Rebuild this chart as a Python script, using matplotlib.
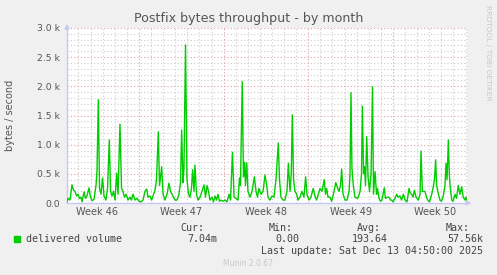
import matplotlib.pyplot as plt
import numpy as np

# time in days since Mon 10 Nov 2025 00:00, values in k bytes/second
days = [1.05, 1.13, 1.30, 1.46, 1.59, 1.71, 1.84, 1.96, 2.08, 2.21, 2.29, 2.46, 2.58, 2.70, 2.87, 2.99,
        3.12, 3.28, 3.45, 3.53, 3.64, 3.74, 3.86, 3.99, 4.11, 4.27, 4.40, 4.55, 4.65, 4.77, 4.89, 5.02,
        5.16, 5.27, 5.43, 5.56, 5.68, 5.80, 5.93, 6.09, 6.26, 6.38, 6.51, 6.67, 6.84, 7.00, 7.17, 7.33,
        7.50, 7.64, 7.75, 7.91, 8.05, 8.16, 8.33, 8.45, 8.60, 8.70, 8.88, 8.99, 9.15, 9.32, 9.48, 9.61,
        9.73, 9.86, 9.98, 10.14, 10.31, 10.43, 10.53, 10.64, 10.72, 10.85, 10.97, 11.10, 11.22, 11.34,
        11.44, 11.55, 11.63, 11.76, 11.88, 12.05, 12.21, 12.38, 12.50, 12.63, 12.75, 12.87, 13.04, 13.16,
        13.29, 13.41, 13.53, 13.66, 13.78, 13.95, 14.11, 14.28, 14.44, 14.57, 14.73, 14.86, 15.02, 15.19,
        15.31, 15.39, 15.54, 15.64, 15.73, 15.81, 15.91, 16.01, 16.18, 16.35, 16.54, 16.68, 16.80, 16.92,
        17.09, 17.26, 17.42, 17.56, 17.67, 17.83, 18.00, 18.16, 18.33, 18.52, 18.62, 18.74, 18.91, 19.07,
        19.24, 19.35, 19.49, 19.59, 19.68, 19.78, 19.90, 20.04, 20.15, 20.31, 20.48, 20.64, 20.78, 20.89,
        21.06, 21.22, 21.41, 21.55, 21.68, 21.83, 21.97, 22.13, 22.32, 22.42, 22.52, 22.63, 22.79, 22.93,
        23.08, 23.27, 23.43, 23.54, 23.66, 23.76, 23.87, 24.04, 24.20, 24.37, 24.45, 24.53, 24.61, 24.72,
        24.86, 25.03, 25.14, 25.28, 25.40, 25.47, 25.57, 25.65, 25.73, 25.83, 25.94, 26.06, 26.19, 26.31,
        26.39, 26.52, 26.64, 26.72, 26.85, 26.97, 27.09, 27.28, 27.38, 27.51, 27.67, 27.80, 27.90, 28.00,
        28.17, 28.31, 28.42, 28.58, 28.71, 28.86, 29.00, 29.16, 29.33, 29.41, 29.55, 29.66, 29.77, 29.91,
        30.10, 30.24, 30.32, 30.43, 30.57, 30.65, 30.77, 30.87, 31.02, 31.20, 31.31, 31.43, 31.53, 31.61,
        31.76, 31.89, 32.01, 32.16, 32.30, 32.39, 32.47, 32.58, 32.66, 32.72, 32.86, 32.96, 33.13, 33.25,
        33.40, 33.54, 33.68, 33.81, 33.95, 34.03, 34.12]
delivered = [0.02, 0.08, 0.05, 0.31, 0.22, 0.20, 0.12, 0.15, 0.08, 0.10, 0.02, 0.19, 0.08, 0.12, 0.26, 0.10,
             0.04, 0.06, 0.30, 0.55, 1.77, 0.25, 0.15, 0.43, 0.12, 0.05, 0.25, 1.08, 0.20, 0.12, 0.20, 0.05,
             0.51, 0.15, 1.35, 0.25, 0.20, 0.10, 0.15, 0.05, 0.10, 0.05, 0.15, 0.05, 0.08, 0.03, 0.02, 0.05,
             0.20, 0.24, 0.10, 0.12, 0.05, 0.12, 0.22, 0.40, 1.22, 0.30, 0.62, 0.15, 0.05, 0.15, 0.34, 0.20,
             0.15, 0.10, 0.05, 0.05, 0.15, 0.35, 1.25, 0.35, 0.60, 2.71, 0.40, 0.15, 0.10, 0.25,
             0.57, 0.20, 0.65, 0.15, 0.05, 0.10, 0.20, 0.31, 0.10, 0.30, 0.20, 0.05, 0.10, 0.02,
             0.12, 0.05, 0.15, 0.03, 0.05, 0.03, 0.05, 0.02, 0.15, 0.05, 0.87, 0.10, 0.08, 0.05,
             0.43, 0.30, 2.08, 0.45, 0.70, 0.30, 0.69, 0.20, 0.10, 0.20, 0.45, 0.20, 0.10, 0.25,
             0.15, 0.20, 0.48, 0.30, 0.10, 0.05, 0.12, 0.10, 0.40, 1.03, 0.40, 0.10, 0.05, 0.05,
             0.20, 0.68, 0.20, 0.50, 1.51, 0.40, 0.20, 0.15, 0.05, 0.10, 0.20, 0.10, 0.45, 0.15,
             0.05, 0.10, 0.25, 0.12, 0.05, 0.15, 0.25, 0.20, 0.40, 0.15, 0.25, 0.10, 0.10, 0.03,
             0.15, 0.35, 0.25, 0.20, 0.30, 0.58, 0.15, 0.05, 0.05, 0.20, 0.50, 1.89, 0.60, 0.30,
             0.10, 0.08, 0.10, 0.20, 0.50, 1.66, 0.50, 0.62, 0.30, 1.14, 0.45, 0.20, 0.50, 1.99,
             0.15, 0.54, 0.15, 0.25, 0.08, 0.03, 0.05, 0.26, 0.08, 0.10, 0.10, 0.05, 0.05, 0.02,
             0.08, 0.15, 0.10, 0.12, 0.05, 0.15, 0.05, 0.02, 0.25, 0.18, 0.15, 0.10, 0.22, 0.10,
             0.05, 0.15, 0.89, 0.20, 0.20, 0.20, 0.10, 0.05, 0.02, 0.15, 0.25, 0.40, 0.74, 0.30,
             0.15, 0.05, 0.03, 0.12, 0.30, 0.68, 0.40, 1.08, 0.50, 0.30, 0.05, 0.03, 0.15, 0.08,
             0.30, 0.15, 0.28, 0.10, 0.05, 0.10, 0.03]

week_labels = ['Week 46', 'Week 47', 'Week 48', 'Week 49', 'Week 50']
week_centers = [3.5, 10.5, 17.5, 24.5, 31.5]
week_bounds = [7, 14, 21, 28]
y_ticks = [0, 0.5, 1.0, 1.5, 2.0, 2.5, 3.0]
y_labels = ['0.0', '0.5 k', '1.0 k', '1.5 k', '2.0 k', '2.5 k', '3.0 k']

legend_name = 'delivered volume'
stat_heads = ['Cur:', 'Min:', 'Avg:', 'Max:']
stat_vals = ['7.04m', '0.00', '193.64', '57.56k']
last_update = 'Last update: Sat Dec 13 04:50:00 2025'

bg = '#f0f0f0'
green = '#00cc00'
txt = '#555555'
minor_c = '#cccccc'
major_c = '#e2a0a0'
axis_c = '#c8c8f8'
dots = (0, (1, 2))

fig = plt.figure(figsize=(4.97, 2.75), dpi=100, facecolor=bg)
ax = fig.add_axes([0.1348, 0.2618, 0.8048, 0.6364])
ax.set_facecolor('white')

# grid: minor every day / 0.1 k, major every week / 0.5 k
for d in range(2, 35):
    if d not in week_bounds:
        ax.axvline(d, color=minor_c, lw=0.8, ls=dots, zorder=1)
for v in np.arange(0.1, 3.01, 0.1):
    if abs(v * 2 - round(v * 2)) > 1e-6:
        ax.axhline(v, color=minor_c, lw=0.8, ls=dots, zorder=1)
for d in week_bounds:
    ax.axvline(d, color=major_c, lw=0.8, ls=dots, zorder=2)
for v in y_ticks[1:]:
    ax.axhline(v, color=major_c, lw=0.8, ls=dots, zorder=2)

ax.plot(days, delivered, color=green, lw=1.0, zorder=3)

ax.set_xlim(1.05, 34.12)
ax.set_ylim(0, 3.0)
ax.set_xticks(week_centers)
ax.set_xticklabels(week_labels, fontsize=7, color=txt)
ax.set_yticks(y_ticks)
ax.set_yticklabels(y_labels, fontsize=6.7, color=txt)
ax.tick_params(length=0, pad=5)
ax.tick_params(axis='x', pad=3)
for s in ['top', 'right']:
    ax.spines[s].set_visible(False)
for s in ['left', 'bottom']:
    ax.spines[s].set_color(axis_c)
    ax.spines[s].set_linewidth(1)

ax.annotate('', xy=(0, 1.04), xytext=(0, 0.98), xycoords='axes fraction',
            arrowprops=dict(arrowstyle='-|>', color=axis_c, lw=1, mutation_scale=7))
ax.annotate('', xy=(1.018, 0), xytext=(0.99, 0), xycoords='axes fraction',
            arrowprops=dict(arrowstyle='-|>', color=axis_c, lw=1, mutation_scale=7))

fig.text(0.4998, 0.931, 'Postfix bytes throughput - by month', ha='center', va='center',
         fontsize=9.1, color='#555555')
fig.text(0.020, 0.58, 'bytes / second', rotation=90, ha='center', va='center',
         fontsize=7, color=txt)
fig.text(0.982, 0.982, 'RRDTOOL / TOBI OETIKER', rotation=270, ha='center', va='top',
         fontsize=5.4, color='#c8c8c8')

# legend block
mono = 'DejaVu Sans Mono'
fig.patches.append(plt.Rectangle((14 / 497, 1 - 242 / 275), 6 / 497, 6 / 275,
                                 transform=fig.transFigure, color=green))
fig.text(26 / 497, 1 - 239 / 275, legend_name, family=mono, fontsize=7.2, color='#444444',
         va='center')
head_x = [204, 293, 381, 470]
val_x = [217, 299, 388, 483]
for h, hx in zip(stat_heads, head_x):
    fig.text(hx / 497, 1 - 228 / 275, h, family=mono, fontsize=7.2, color='#444444',
             ha='right', va='center')
for v, vx in zip(stat_vals, val_x):
    fig.text(vx / 497, 1 - 239 / 275, v, family=mono, fontsize=7.2, color='#444444',
             ha='right', va='center')
fig.text(483 / 497, 1 - 251 / 275, last_update, family=mono, fontsize=7.2, color='#444444',
         ha='right', va='center')
fig.text(248 / 497, 1 - 264 / 275, 'Munin 2.0.67', fontsize=5.5, color='#c8c8c8',
         ha='center', va='center')

fig.savefig('out.png', dpi=100, facecolor=bg)
